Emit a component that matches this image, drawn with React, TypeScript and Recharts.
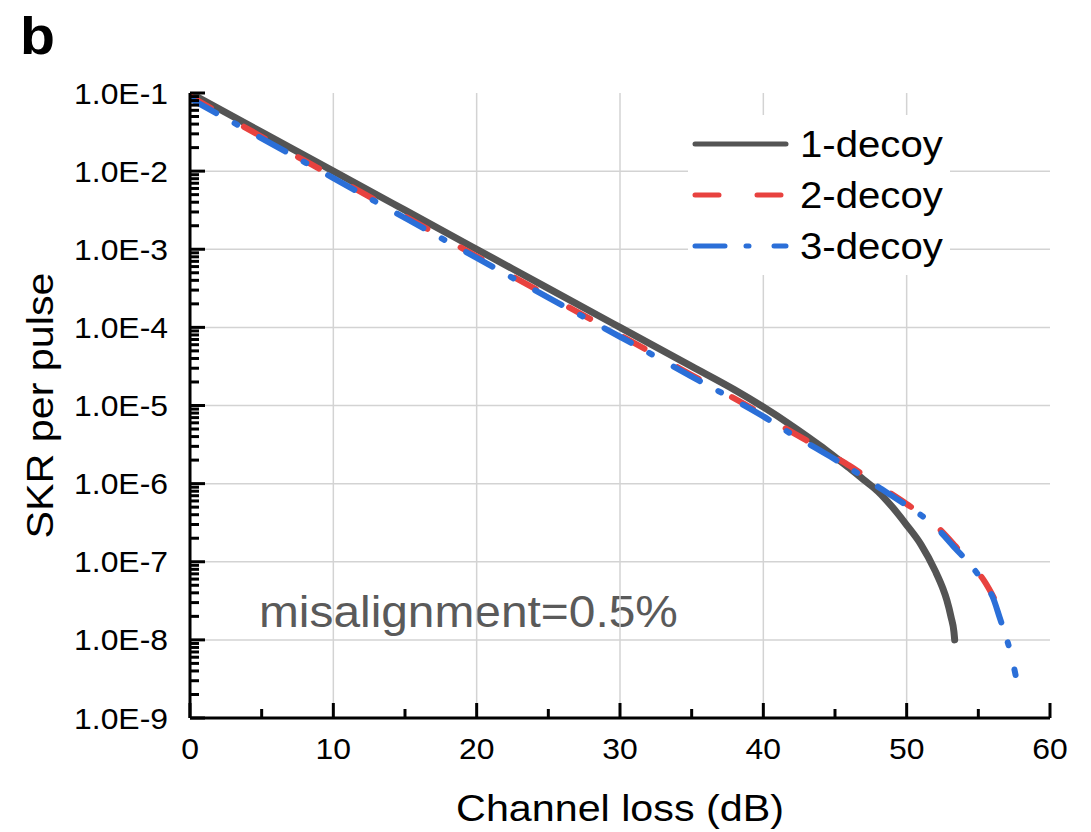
import React from 'react';
import { LineChart, Line, XAxis, YAxis, ReferenceLine, Legend, Customized } from 'recharts';

// ---- data (x = channel loss in dB, values = log10(SKR per pulse)) ----
const loss1 = [0, 5, 10, 15, 20, 25, 30, 35, 38, 40, 42, 44, 45, 46, 47, 48, 49, 50, 51, 52, 52.5, 52.8, 53.1, 53.3, 53.35];
const skrLog1 = [-1.0, -1.5, -2.0, -2.5, -3.0, -3.5, -4.0, -4.5, -4.8, -5.02, -5.26, -5.52, -5.66, -5.8, -5.95, -6.1, -6.3, -6.53, -6.78, -7.12, -7.33, -7.49, -7.71, -7.9, -8.0];

const loss2 = [0, 5, 10, 15, 20, 25, 30, 35, 40, 42, 44, 45, 46, 48, 50, 52, 53.4, 54.5, 55.5, 56.2];
const skrLog2 = [-1.04, -1.56, -2.07, -2.58, -3.09, -3.6, -4.1, -4.61, -5.12, -5.34, -5.55, -5.66, -5.77, -6.02, -6.26, -6.53, -6.8, -7.03, -7.27, -7.5];

const loss3 = [0, 5, 10, 15, 20, 25, 30, 35, 38, 40, 42, 44, 45, 46, 48, 50, 52, 53.4, 54.5, 55.5, 56, 56.5, 57, 57.3, 57.6];
const skrLog3 = [-1.07, -1.58, -2.09, -2.6, -3.11, -3.62, -4.12, -4.63, -4.93, -5.14, -5.37, -5.58, -5.69, -5.8, -6.04, -6.28, -6.55, -6.83, -7.05, -7.3, -7.45, -7.72, -8.0, -8.2, -8.45];

const seriesNames = ['1-decoy', '2-decoy', '3-decoy'];
const seriesColors = ['#545454', '#e8423f', '#2b6fd8'];
const seriesDash = ['', '24 38', '30 21 3 25'];

const xMajorTicks = [0, 10, 20, 30, 40, 50, 60];
const xMinorTicks = [5, 15, 25, 35, 45, 55];
const yMajorExp = [-9, -8, -7, -6, -5, -4, -3, -2, -1];
const gridX = [10, 20, 30, 40, 50];
const gridYExp = [-8, -7, -6, -5, -4, -3, -2];

const annotation = 'misalignment=0.5%';
const panelLetter = 'b';
const xTitle = 'Channel loss (dB)';
const yTitle = 'SKR per pulse';

// ---- derived tables ----
const toRows = (xs: number[], ls: number[]) => xs.map((x, i) => ({ x, y: Math.pow(10, ls[i]) }));
const data1 = toRows(loss1, skrLog1);
const data2 = toRows(loss2, skrLog2);
const data3 = toRows(loss3, skrLog3);

const yMajorTicks = yMajorExp.map((e) => Math.pow(10, e));
const yMinorTicks: number[] = [];
yMajorExp.slice(0, -1).forEach((e) => {
  for (let k = 2; k <= 9; k++) yMinorTicks.push(k * Math.pow(10, e));
});
const yAllTicks = [...yMajorTicks, ...yMinorTicks].sort((a, b) => a - b);
const xAllTicks = [...xMajorTicks, ...xMinorTicks].sort((a, b) => a - b);

const isMajorY = (v: number) => {
  const l = Math.log10(v);
  return Math.abs(l - Math.round(l)) < 1e-6;
};
const isMajorX = (v: number) => v % 10 === 0;

// ---- layout ----
const W = 1091;
const H = 832;
const MARGIN = { top: 93, right: 41, bottom: 0, left: 0 };
const Y_AXIS_W = 190;
const X_AXIS_H = 114;
const PLOT_L = MARGIN.left + Y_AXIS_W;
const PLOT_R = W - MARGIN.right;
const PLOT_T = MARGIN.top;
const PLOT_B = H - MARGIN.bottom - X_AXIS_H;

const FONT = '"Liberation Sans", Arial, Helvetica, sans-serif';
const SX = 1.1;
const MAJOR = 15;
const MINOR = 9;
const AX = 3;

const fmtY = (v: number) => `1.0E${Math.round(Math.log10(v))}`;

const SText = ({ x, y, size, anchor = 'start', fill = '#000', weight = 'normal', rotate = false, children }: any) => (
  <text
    transform={`translate(${x},${y})${rotate ? ' rotate(-90)' : ''} scale(${SX},1)`}
    fontSize={size}
    fontFamily={FONT}
    fontWeight={weight}
    textAnchor={anchor}
    fill={fill}
  >
    {children}
  </text>
);

const LeftTick = (p: any) => {
  const v = p.payload.value;
  const major = isMajorY(v);
  return (
    <g>
      <line x1={PLOT_L} x2={PLOT_L + (major ? MAJOR : MINOR)} y1={p.y} y2={p.y} stroke="#000" strokeWidth={AX} />
      {major && (
        <SText x={PLOT_L - 22} y={p.y + 10.5} size={29} anchor="end">
          {fmtY(v)}
        </SText>
      )}
    </g>
  );
};

const RightTick = (p: any) => {
  const v = p.payload.value;
  const major = isMajorY(v);
  return <line x1={PLOT_R} x2={PLOT_R - (major ? MAJOR : MINOR)} y1={p.y} y2={p.y} stroke="#000" strokeWidth={AX} />;
};

const BottomTick = (p: any) => {
  const v = p.payload.value;
  const major = isMajorX(v);
  return (
    <g>
      <line x1={p.x} x2={p.x} y1={PLOT_B} y2={PLOT_B - (major ? MAJOR : MINOR)} stroke="#000" strokeWidth={AX} />
      {major && (
        <SText x={p.x} y={PLOT_B + 41} size={29} anchor="middle">
          {String(v)}
        </SText>
      )}
    </g>
  );
};

const TopTick = (p: any) => {
  const v = p.payload.value;
  const major = isMajorX(v);
  return <line x1={p.x} x2={p.x} y1={PLOT_T} y2={PLOT_T + (major ? MAJOR : MINOR)} stroke="#000" strokeWidth={AX} />;
};

const LegendBox = () => (
  <div style={{ width: 262, height: 160, background: '#fff' }}>
    <svg width={262} height={160}>
      {seriesNames.map((n, i) => {
        const cy = 29 + i * 51;
        return (
          <g key={n}>
            <line
              x1={7}
              x2={98}
              y1={cy}
              y2={cy}
              stroke={seriesColors[i]}
              strokeWidth={5}
              strokeDasharray={seriesDash[i] || undefined}
              strokeLinecap="round"
            />
            <SText x={112} y={cy + 13} size={36.5}>
              {n}
            </SText>
          </g>
        );
      })}
    </svg>
  </div>
);

const Annotations = () => (
  <g>
    <SText x={20} y={54} size={52} weight="bold">
      {panelLetter}
    </SText>
    <SText x={53} y={(PLOT_T + PLOT_B) / 2} size={37.5} anchor="middle" rotate>
      {yTitle}
    </SText>
    <SText x={(PLOT_L + PLOT_R) / 2} y={821} size={37.5} anchor="middle">
      {xTitle}
    </SText>
    <SText x={259} y={627} size={43.5} fill="#5a5a5a">
      {annotation}
    </SText>
  </g>
);

const axisLineStyle = { stroke: '#000', strokeWidth: AX };

export default function App() {
  return (
    <div style={{ position: 'absolute', left: 0, top: 0, background: '#fff' }}>
      <LineChart width={W} height={H} margin={MARGIN}>
        <XAxis
          xAxisId={0}
          type="number"
          dataKey="x"
          domain={[0, 60]}
          ticks={xAllTicks}
          interval={0}
          height={X_AXIS_H}
          tickLine={false}
          axisLine={axisLineStyle}
          tick={(p: any) => <BottomTick {...p} />}
          allowDataOverflow
        />
        <XAxis
          xAxisId="top"
          orientation="top"
          type="number"
          dataKey="x"
          domain={[0, 60]}
          ticks={xAllTicks}
          interval={0}
          height={0}
          tickLine={false}
          axisLine={axisLineStyle}
          tick={(p: any) => <TopTick {...p} />}
          allowDataOverflow
        />
        <YAxis
          yAxisId={0}
          type="number"
          scale="log"
          domain={[1e-9, 1e-1]}
          ticks={yAllTicks}
          interval={0}
          width={Y_AXIS_W}
          tickLine={false}
          axisLine={axisLineStyle}
          tick={(p: any) => <LeftTick {...p} />}
          allowDataOverflow
        />
        <YAxis
          yAxisId="right"
          orientation="right"
          type="number"
          scale="log"
          domain={[1e-9, 1e-1]}
          ticks={yAllTicks}
          interval={0}
          width={0}
          tickLine={false}
          axisLine={axisLineStyle}
          tick={(p: any) => <RightTick {...p} />}
          allowDataOverflow
        />
        {gridX.map((g) => (
          <ReferenceLine key={'gx' + g} x={g} xAxisId={0} yAxisId={0} stroke="#d3d3d3" strokeWidth={1.5} />
        ))}
        {gridYExp.map((e) => (
          <ReferenceLine key={'gy' + e} y={Math.pow(10, e)} xAxisId={0} yAxisId={0} stroke="#d3d3d3" strokeWidth={1.5} />
        ))}
        <Line
          data={data1}
          dataKey="y"
          name={seriesNames[0]}
          xAxisId={0}
          yAxisId={0}
          type="monotone"
          stroke={seriesColors[0]}
          strokeWidth={7}
          dot={false}
          strokeLinecap="round"
          isAnimationActive={false}
        />
        <Line
          data={data2}
          dataKey="y"
          name={seriesNames[1]}
          xAxisId={0}
          yAxisId={0}
          type="monotone"
          stroke={seriesColors[1]}
          strokeWidth={6}
          strokeDasharray={seriesDash[1]}
          strokeLinecap="round"
          dot={false}
          isAnimationActive={false}
        />
        <Line
          data={data3}
          dataKey="y"
          name={seriesNames[2]}
          xAxisId={0}
          yAxisId={0}
          type="monotone"
          stroke={seriesColors[2]}
          strokeWidth={6}
          strokeDasharray={seriesDash[2]}
          strokeLinecap="round"
          dot={false}
          isAnimationActive={false}
        />
        <Legend
          layout="vertical"
          verticalAlign="middle"
          align="center"
          content={() => <LegendBox />}
          wrapperStyle={{ left: 688, top: 115, width: 262, height: 160 }}
        />
        <Customized component={<Annotations />} />
      </LineChart>
    </div>
  );
}
